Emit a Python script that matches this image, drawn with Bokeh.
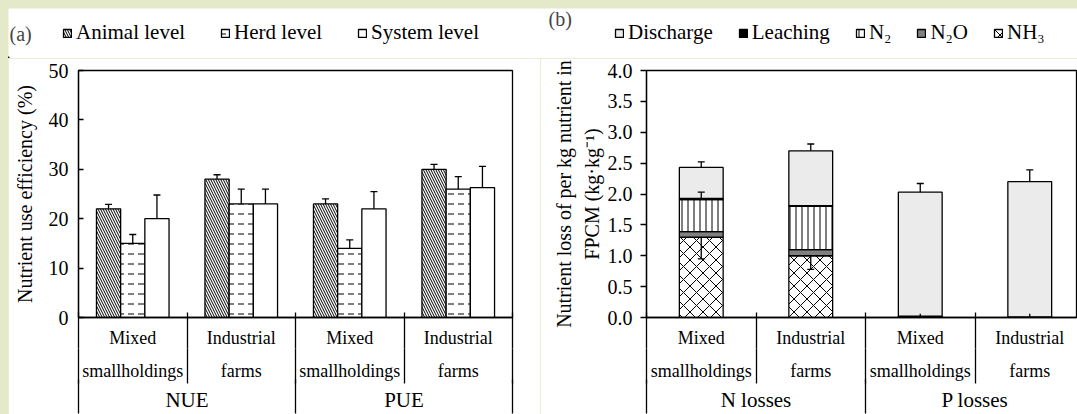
import numpy as np
from bokeh.plotting import figure
from bokeh.layouts import row, column
from bokeh.models import (Range1d, FixedTicker, Legend, LegendItem, Whisker, TeeHead,
                          Label, ColumnDataSource, PrintfTickFormatter, LinearAxis)
from bokeh.embed import file_html
from bokeh.resources import INLINE

FONT = "Liberation Serif"

# ---------------- data, panel (a)
groups_a = ["NUE", "PUE"]
farm_line1 = ["Mixed", "Industrial"]
farm_line2 = ["smallholdings", "farms"]
series_a = ["Animal level", "Herd level", "System level"]
animal = [22.0, 28.0, 23.0, 30.0]
animal_err = [0.9, 0.9, 1.0, 1.0]
herd = [15.0, 23.0, 14.0, 26.0]
herd_err = [1.8, 3.0, 1.7, 2.5]
system = [20.0, 23.0, 22.0, 26.3]
system_err = [4.8, 3.0, 3.5, 4.3]
yticks_a = [0, 10, 20, 30, 40, 50]

# ---------------- data, panel (b)
groups_b = ["N losses", "P losses"]
series_b = ["Discharge", "Leaching", "N\u2082", "N\u2082O", "NH\u2083"]
nh3 = [1.30, 1.00, 0.0, 0.0]
nh3_err = [0.35, 0.22, 0.0, 0.0]
n2o = [0.09, 0.10, 0.0, 0.0]
n2 = [0.52, 0.70, 0.0, 0.0]
n2_err = [0.12, 0.01, 0.0, 0.0]
leaching = [0.02, 0.01, 0.02, 0.01]
leach_err = [0.0, 0.0, 0.04, 0.05]
discharge = [0.50, 0.89, 2.01, 2.19]
discharge_err = [0.09, 0.11, 0.14, 0.19]
yticks_b = [0.0, 0.5, 1.0, 1.5, 2.0, 2.5, 3.0, 3.5, 4.0]

LW = 1.3
HEAD_H = 50
TOP_B = 12
MAIN_H = TOP_B + 252 + 92

# bar styles
style_a = [
    dict(fill_color="white", hatch_pattern="left_diagonal_line", hatch_scale=5),
    dict(fill_color="white", hatch_pattern="horizontal_dash", hatch_scale=10),
    dict(fill_color="white", hatch_pattern=" ", hatch_scale=12),
]
keys_b = ["nh3", "n2o", "n2", "leaching", "discharge"]
style_b = {
    "nh3": dict(fill_color="white", hatch_pattern="diagonal_cross", hatch_scale=13),
    "n2o": dict(fill_color="#808080", hatch_pattern=" ", hatch_scale=12),
    "n2": dict(fill_color="white", hatch_pattern="vertical_line", hatch_scale=6),
    "leaching": dict(fill_color="black", hatch_pattern=" ", hatch_scale=12),
    "discharge": dict(fill_color="#ebebeb", hatch_pattern=" ", hatch_scale=12),
}
legend_order_b = ["discharge", "leaching", "n2", "n2o", "nh3"]
common = dict(line_color="black", line_width=LW, hatch_color="black", hatch_weight=1)


def base_fig(width, x_end, y_end, left, right):
    p = figure(width=width, height=MAIN_H, x_range=Range1d(0, x_end), y_range=Range1d(0, y_end),
               x_axis_location=None, y_axis_location="left", output_backend="svg",
               toolbar_location=None, min_border=0, min_border_left=left,
               min_border_right=right, min_border_top=TOP_B, min_border_bottom=92)
    p.outline_line_color = "black"
    p.outline_line_width = LW
    p.grid.visible = False
    p.background_fill_color = "white"
    p.border_fill_color = "white"
    ax = p.yaxis[0]
    ax.axis_line_width = LW
    ax.axis_line_color = "black"
    ax.major_tick_line_width = LW
    ax.major_tick_line_color = "black"
    ax.minor_tick_line_color = None
    ax.major_label_text_font = FONT
    ax.major_label_text_font_size = "20px"
    ax.major_label_text_color = "black"
    ax.axis_label_text_font = FONT
    ax.axis_label_text_font_size = "20px"
    ax.axis_label_text_font_style = "normal"
    ax.axis_label_text_color = "black"
    return p


def label_axis(ticks, labels, minor, size, standoff, tick_in, tick_out, line=False):
    ax = LinearAxis(ticker=FixedTicker(ticks=ticks, minor_ticks=minor),
                    major_label_overrides={t: s for t, s in zip(ticks, labels)})
    ax.axis_line_color = "black" if line else None
    ax.axis_line_width = LW
    ax.major_tick_line_color = None
    ax.major_tick_in = 0
    ax.major_tick_out = 0
    ax.minor_tick_line_color = "black"
    ax.minor_tick_line_width = LW
    ax.minor_tick_in = tick_in
    ax.minor_tick_out = tick_out
    ax.major_label_standoff = standoff
    ax.major_label_text_font = FONT
    ax.major_label_text_font_size = size
    ax.major_label_text_color = "black"
    return ax


def add_cat_axes(p, n, groups):
    centers = [i + 0.5 for i in range(n)]
    bounds = list(range(n + 1))
    gcent = [2 * i + 1.0 for i in range(len(groups))]
    # line 1 of the farm labels, with the separators running through it
    p.add_layout(label_axis(centers, farm_line1 * len(groups), bounds, "18px", -21, 5, 31, line=True), "below")
    # line 2 of the farm labels
    p.add_layout(label_axis(centers, farm_line2 * len(groups), bounds, "18px", -23, 2, 33), "below")
    # group labels, with the long separators down to the bottom
    p.add_layout(label_axis(gcent, groups, bounds[::2], "21px", -26, 4, 30), "below")


def whisker(p, base, lower, upper, up_head=True, down_head=False, size=7):
    src = ColumnDataSource(dict(base=list(base), lower=list(lower), upper=list(upper)))
    w = Whisker(source=src, base="base", lower="lower", upper="upper",
                upper_head=TeeHead(size=size, line_width=LW, line_color="black") if up_head else None,
                lower_head=TeeHead(size=size, line_width=LW, line_color="black") if down_head else None,
                line_width=LW, line_color="black", level="annotation")
    p.add_layout(w)


# ================= panel (a) =================
WA = 532
pa = base_fig(WA, 4, max(yticks_a), 70, 28)
pa.yaxis.ticker = FixedTicker(ticks=yticks_a)
pa.yaxis.major_tick_in = 5
pa.yaxis.major_tick_out = 0
pa.yaxis.major_label_standoff = 10
pa.yaxis.axis_label = "Nutrient use efficiency (%)"
pa.yaxis.axis_label_standoff = 10

n_a = len(animal)
cx = np.arange(n_a) + 0.5
bw = 0.223
vals = [animal, herd, system]
errs = [animal_err, herd_err, system_err]
for k, (v, e) in enumerate(zip(vals, errs)):
    xs = cx + (k - 1) * bw
    pa.vbar(x=xs, top=v, width=bw, bottom=0, **style_a[k], **common)
    whisker(pa, xs, v, np.array(v) + np.array(e))
add_cat_axes(pa, n_a, groups_a)

# ================= panel (b) =================
WB = 537
PXX_B = 109.5
LEFT_B, RIGHT_B = 106, 1
XEND_B = (WB - LEFT_B - RIGHT_B) / PXX_B
pb = base_fig(WB, XEND_B, max(yticks_b), LEFT_B, RIGHT_B)
pb.yaxis.ticker = FixedTicker(ticks=yticks_b)
pb.yaxis.formatter = PrintfTickFormatter(format="%.1f")
pb.yaxis.major_tick_in = 0
pb.yaxis.major_tick_out = 6
pb.yaxis.major_label_standoff = 8
pb.yaxis.axis_label = "FPCM (kg\u00b7kg\u207b\u00b9)"
pb.yaxis.axis_label_standoff = 2

ax_t = LinearAxis(ticker=FixedTicker(ticks=[]), axis_label="Nutrient loss of per kg nutrient in")
ax_t.axis_line_color = None
ax_t.major_tick_line_color = None
ax_t.minor_tick_line_color = None
ax_t.major_tick_out = 0
ax_t.major_tick_in = 0
ax_t.major_label_standoff = 0
ax_t.axis_label_standoff = 3
ax_t.axis_label_text_font = FONT
ax_t.axis_label_text_font_size = "20px"
ax_t.axis_label_text_font_style = "normal"
ax_t.axis_label_text_color = "black"
pb.add_layout(ax_t, "left")

n_b = len(nh3)
cxb = np.arange(n_b) + 0.5
src_b = ColumnDataSource(dict(x=cxb, nh3=nh3, n2o=n2o, n2=n2, leaching=leaching, discharge=discharge))
rs = pb.vbar_stack(keys_b, x="x", width=0.40, source=src_b,
                   fill_color=[style_b[k]["fill_color"] for k in keys_b],
                   hatch_pattern=[style_b[k]["hatch_pattern"] for k in keys_b],
                   hatch_scale=[style_b[k]["hatch_scale"] for k in keys_b], **common)

nh3a = np.array(nh3)
n2top = nh3a + np.array(n2o) + np.array(n2)
leachtop = n2top + np.array(leaching)
total = leachtop + np.array(discharge)

m = np.array(nh3_err) > 0
whisker(pb, cxb[m], (nh3a - np.array(nh3_err))[m], nh3a[m], up_head=False, down_head=True)
m = np.array(n2_err) > 0
whisker(pb, cxb[m], n2top[m], (n2top + np.array(n2_err))[m])
m = np.array(leach_err) > 0
whisker(pb, cxb[m], leachtop[m], (leachtop + np.array(leach_err))[m], up_head=False)
whisker(pb, cxb, total, total + np.array(discharge_err))
add_cat_axes(pb, n_b, groups_b)

# ================= header: panel tags and legends =================
HW = WA + WB
hd = figure(width=HW, height=HEAD_H, x_range=Range1d(0, HW), y_range=Range1d(0, HEAD_H),
            x_axis_location=None, y_axis_location=None, output_backend="svg",
            toolbar_location=None, min_border=0)
hd.outline_line_color = None
hd.grid.visible = False
hd.background_fill_color = "white"
hd.border_fill_color = "white"

# legend proxies: one bar each, placed outside the visible header range
proxy = dict(x=[-1000], top=[1], width=1)
items_a = []
for s, st in zip(series_a, style_a):
    r = hd.vbar(**proxy, **st, **common)
    items_a.append(LegendItem(label=s, renderers=[r]))
items_b = []
for s, k in zip(series_b, legend_order_b):
    r = hd.vbar(**proxy, **style_b[k], **common)
    items_b.append(LegendItem(label=s, renderers=[r]))

leg_kw = dict(orientation="horizontal", glyph_width=10, glyph_height=10, label_standoff=4,
              padding=0, margin=0, border_line_color=None, background_fill_alpha=0,
              label_text_font=FONT, label_text_font_size="21px", label_text_color="black")
hd.add_layout(Legend(items=items_a, location=(54, 13), spacing=35, **leg_kw))
hd.add_layout(Legend(items=items_b, location=(606, 13), spacing=25, **leg_kw))

hd.add_layout(Label(x=1, y=25, text="(a)", text_font=FONT, text_font_size="20px",
                    text_baseline="middle", text_align="left"))
hd.add_layout(Label(x=540, y=40, text="(b)", text_font=FONT, text_font_size="20px",
                    text_baseline="middle", text_align="left"))

layout = column(hd, row(pa, pb))
html = file_html(layout, INLINE)
style = ("<style>html,body{background:#e3e9c9 !important;overflow:hidden !important;}"
         "body{padding:8px 0 0 8px !important;}</style>")
html = html.replace("</head>", style + "</head>", 1)
open("out.html", "w").write(html)
